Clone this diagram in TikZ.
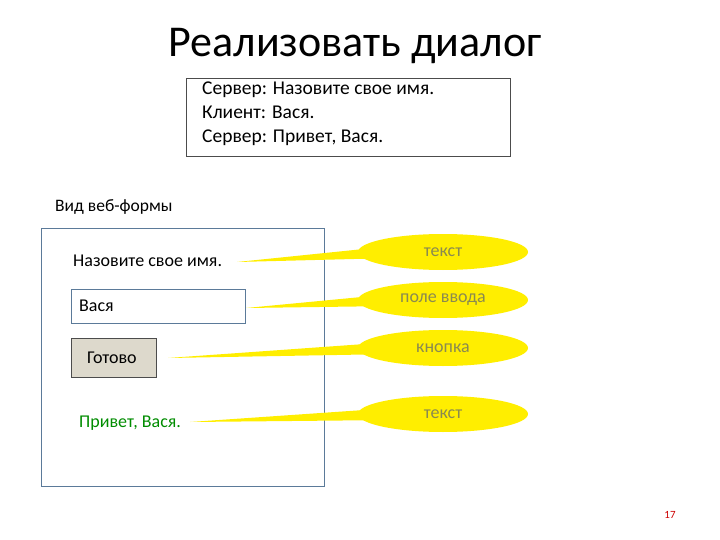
\documentclass[tikz,border=0pt]{standalone}
\usepackage{fontspec}
\setmainfont{Carlito}
\usetikzlibrary{shapes.geometric,calc}
\definecolor{frm}{HTML}{5B7A99}
\definecolor{ylw}{HTML}{FFEE00}
\definecolor{ytx}{HTML}{8A8A50}
\definecolor{btnf}{HTML}{DDD9CC}
\tikzset{
 callout/.style={ellipse,fill=ylw,minimum width=170pt,minimum height=36pt,inner sep=0pt,text=ytx,font=\fontsize{18}{20}\selectfont},
 ptr/.style={fill=ylw},
 lbl/.style={anchor=west,font=\fontsize{18}{20}\selectfont,inner sep=0pt},
}
\begin{document}
\begin{tikzpicture}[x=1pt,y=-1pt]
\useasboundingbox (0,0) rectangle (720,540);
\node[font=\fontsize{44}{48}\selectfont] (title) at (355,46) {Реализовать диалог};
\node[draw=black!70,minimum width=324pt,minimum height=78pt,anchor=north west] (dlg) at (186,78) {};
\node[lbl,anchor=north west,align=left,font=\fontsize{19.5}{24}\selectfont] (dtext) at (202,82) {Сервер: Назовите свое имя.\\Клиент: Вася.\\Сервер: Привет, Вася.};
\node[lbl,font=\fontsize{17.5}{20}\selectfont] (vid) at (55,207) {Вид веб-формы};
\node[draw=frm,line width=1.3pt,minimum width=283pt,minimum height=258pt,anchor=north west] (form) at (41,228) {};
\node[lbl] (t1) at (73,261) {Назовите свое имя.};
\node[draw=frm,line width=1.3pt,minimum width=174pt,minimum height=34pt,anchor=north west] (inp) at (71,289) {};
\node[lbl] (t2) at (79,306) {Вася};
\node[draw=black!70,line width=1.3pt,fill=btnf,minimum width=85pt,minimum height=39pt,anchor=north west] (btn) at (71,338) {};
\node[lbl] (t3) at (87,358) {Готово};
\node[lbl,text=green!55!black] (t4) at (79,423) {Привет, Вася.};
\coordinate (p1) at (237,262);
\coordinate (p2) at (246,308);
\coordinate (p3) at (168,358);
\coordinate (p4) at (190,422);
\path (443,252) coordinate (c1) (443,300) coordinate (c2) (443,348) coordinate (c3) (443,414) coordinate (c4);
\foreach \i in {1,2,3,4}{
 \fill[ptr] (p\i) -- ($(c\i)+(-50,-6)$) -- ($(c\i)+(-50,6)$) -- cycle;
}
\node[callout] (e1) at (c1) {текст};
\node[callout] (e2) at (c2) {поле ввода};
\node[callout] (e3) at (c3) {кнопка};
\node[callout] (e4) at (c4) {текст};
\node[text=red!80!black,font=\fontsize{11}{13}\selectfont] (pg) at (670,515) {17};
\end{tikzpicture}
\end{document}
